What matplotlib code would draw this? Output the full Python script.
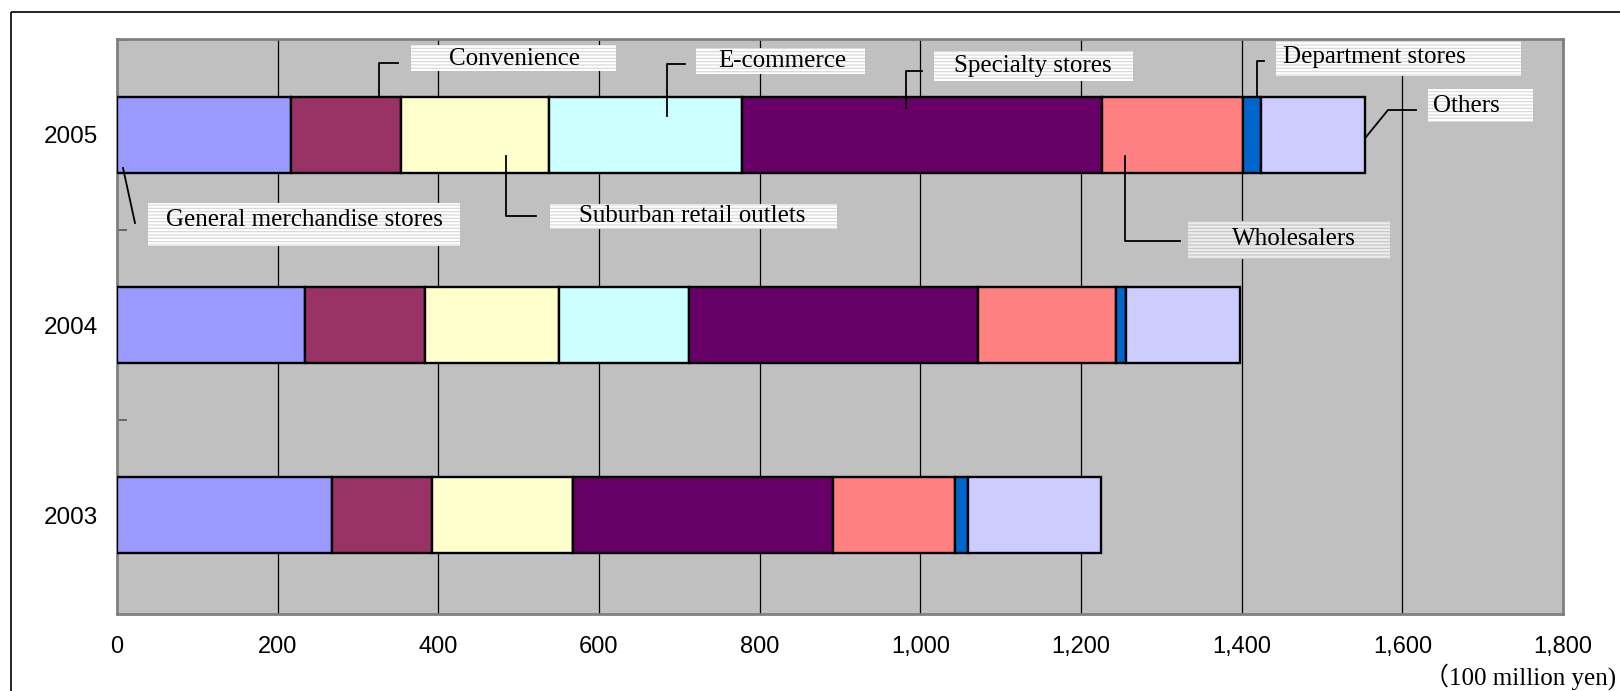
import matplotlib.pyplot as plt
from matplotlib.patches import Rectangle
from matplotlib.transforms import Affine2D
import numpy as np

years = ['2003', '2004', '2005']
categories = ['General merchandise stores', 'Convenience', 'Suburban retail outlets',
              'E-commerce', 'Specialty stores', 'Wholesalers', 'Department stores', 'Others']
gms = [268, 234, 217]
convenience = [124, 150, 136]
suburban = [176, 166, 185]
ecommerce = [0, 162, 240]
specialty = [323, 360, 448]
wholesalers = [152, 171, 176]
department = [16, 13, 22]
others = [166, 142, 130]
xticks = list(range(0, 2000, 200))

series = [gms, convenience, suburban, ecommerce, specialty, wholesalers, department, others]
colors = ['#9999FF', '#993366', '#FFFFCC', '#CCFFFF', '#660066', '#FF8080', '#0066CC', '#CCCCFF']

W, H = 1620, 691
plt.rcParams['hatch.linewidth'] = 0.8
fig = plt.figure(figsize=(W/100, H/100), dpi=100)
ax = fig.add_axes([117/W, 1-614/H, 1446/W, 575/H])
ax.set_facecolor('#C0C0C0')

# pixel coordinates measured from the top-left corner of the image
pix = Affine2D().scale(1, -1).translate(0, H)

# outer frame
fig.patches.append(Rectangle((10.5, 11.5), 1700, 800, transform=pix, fill=False,
                             edgecolor='black', linewidth=1.2))

ypos = np.arange(len(years))
left = np.zeros(len(years))
for vals, c, name in zip(series, colors, categories):
    vals = np.array(vals, dtype=float)
    ax.barh(ypos, vals, left=left, height=0.4, color=c, edgecolor='black', linewidth=1.7,
            label=name, zorder=3)
    left += vals

ax.set_xlim(0, 1800)
ax.set_ylim(-0.52, 2.505)
ax.set_xticks(xticks)
ax.set_xticklabels([f'{v:,}' for v in xticks], family='Liberation Sans', fontsize=17)
ax.tick_params(axis='x', length=0, pad=16)
ax.set_yticks(ypos)
ax.set_yticklabels(years, family='Liberation Sans', fontsize=17.5)
ax.tick_params(axis='y', which='major', length=0, pad=14)
ax.set_yticks([0.5, 1.5, 2.5], minor=True)
ax.tick_params(axis='y', which='minor', direction='in', length=7, color='#606060', width=1.3)
ax.grid(axis='x', color='black', linewidth=0.9, zorder=1)
ax.set_axisbelow(True)
for s in ax.spines.values():
    s.set_color('#808080')
    s.set_linewidth(2)

# label, box (x0, x1, y0, y1), text centre, leader line points
labels = [
    ('Convenience', (411, 616, 45, 71), (514, 59), [(379, 96), (379, 63), (398, 63)]),
    ('E-commerce', (696, 865, 48, 74), (782, 61), [(667, 116), (667, 64), (685, 64)]),
    ('Specialty stores', (934, 1133, 51, 81), (1033, 66), [(906, 108), (906, 71), (922, 71)]),
    ('Department stores', (1276, 1521, 41, 76), (1374, 57), [(1257, 96), (1257, 61), (1264, 61)]),
    ('Others', (1428, 1533, 89, 122), (1466, 106), [(1366, 137), (1388, 110), (1416, 110)]),
    ('Wholesalers', (1188, 1390, 221, 259), (1294, 239), [(1125, 156), (1125, 241), (1180, 241)]),
    ('Suburban retail outlets', (550, 837, 204, 229), (692, 216), [(506, 156), (506, 216), (536, 216)]),
    ('General merchandise stores', (148, 460, 203, 246), (304, 220), [(123, 168), (135, 223)]),
]
for txt, (x0, x1, y0, y1), (tx, ty), pts in labels:
    grey = txt == 'Wholesalers'
    fig.patches.append(Rectangle((x0, y0), x1 - x0, y1 - y0, transform=pix, zorder=5,
                                 facecolor='#ececec' if grey else 'white',
                                 edgecolor='#c4c4c4' if grey else '#d6d6d6',
                                 linewidth=0, hatch='-----'))
    xs, ys = zip(*pts)
    fig.add_artist(plt.Line2D(xs, ys, transform=pix, color='black', linewidth=1.3, zorder=5))
    fig.text(tx, ty, txt, transform=pix, family='Liberation Serif', fontsize=18,
             ha='center', va='center', zorder=6)

fig.text(1424, 677, '（100 million yen)', transform=pix,
         family=['Liberation Serif', 'Noto Sans CJK JP'], fontsize=18, ha='left', va='center')

fig.savefig('out.png', dpi=100)
